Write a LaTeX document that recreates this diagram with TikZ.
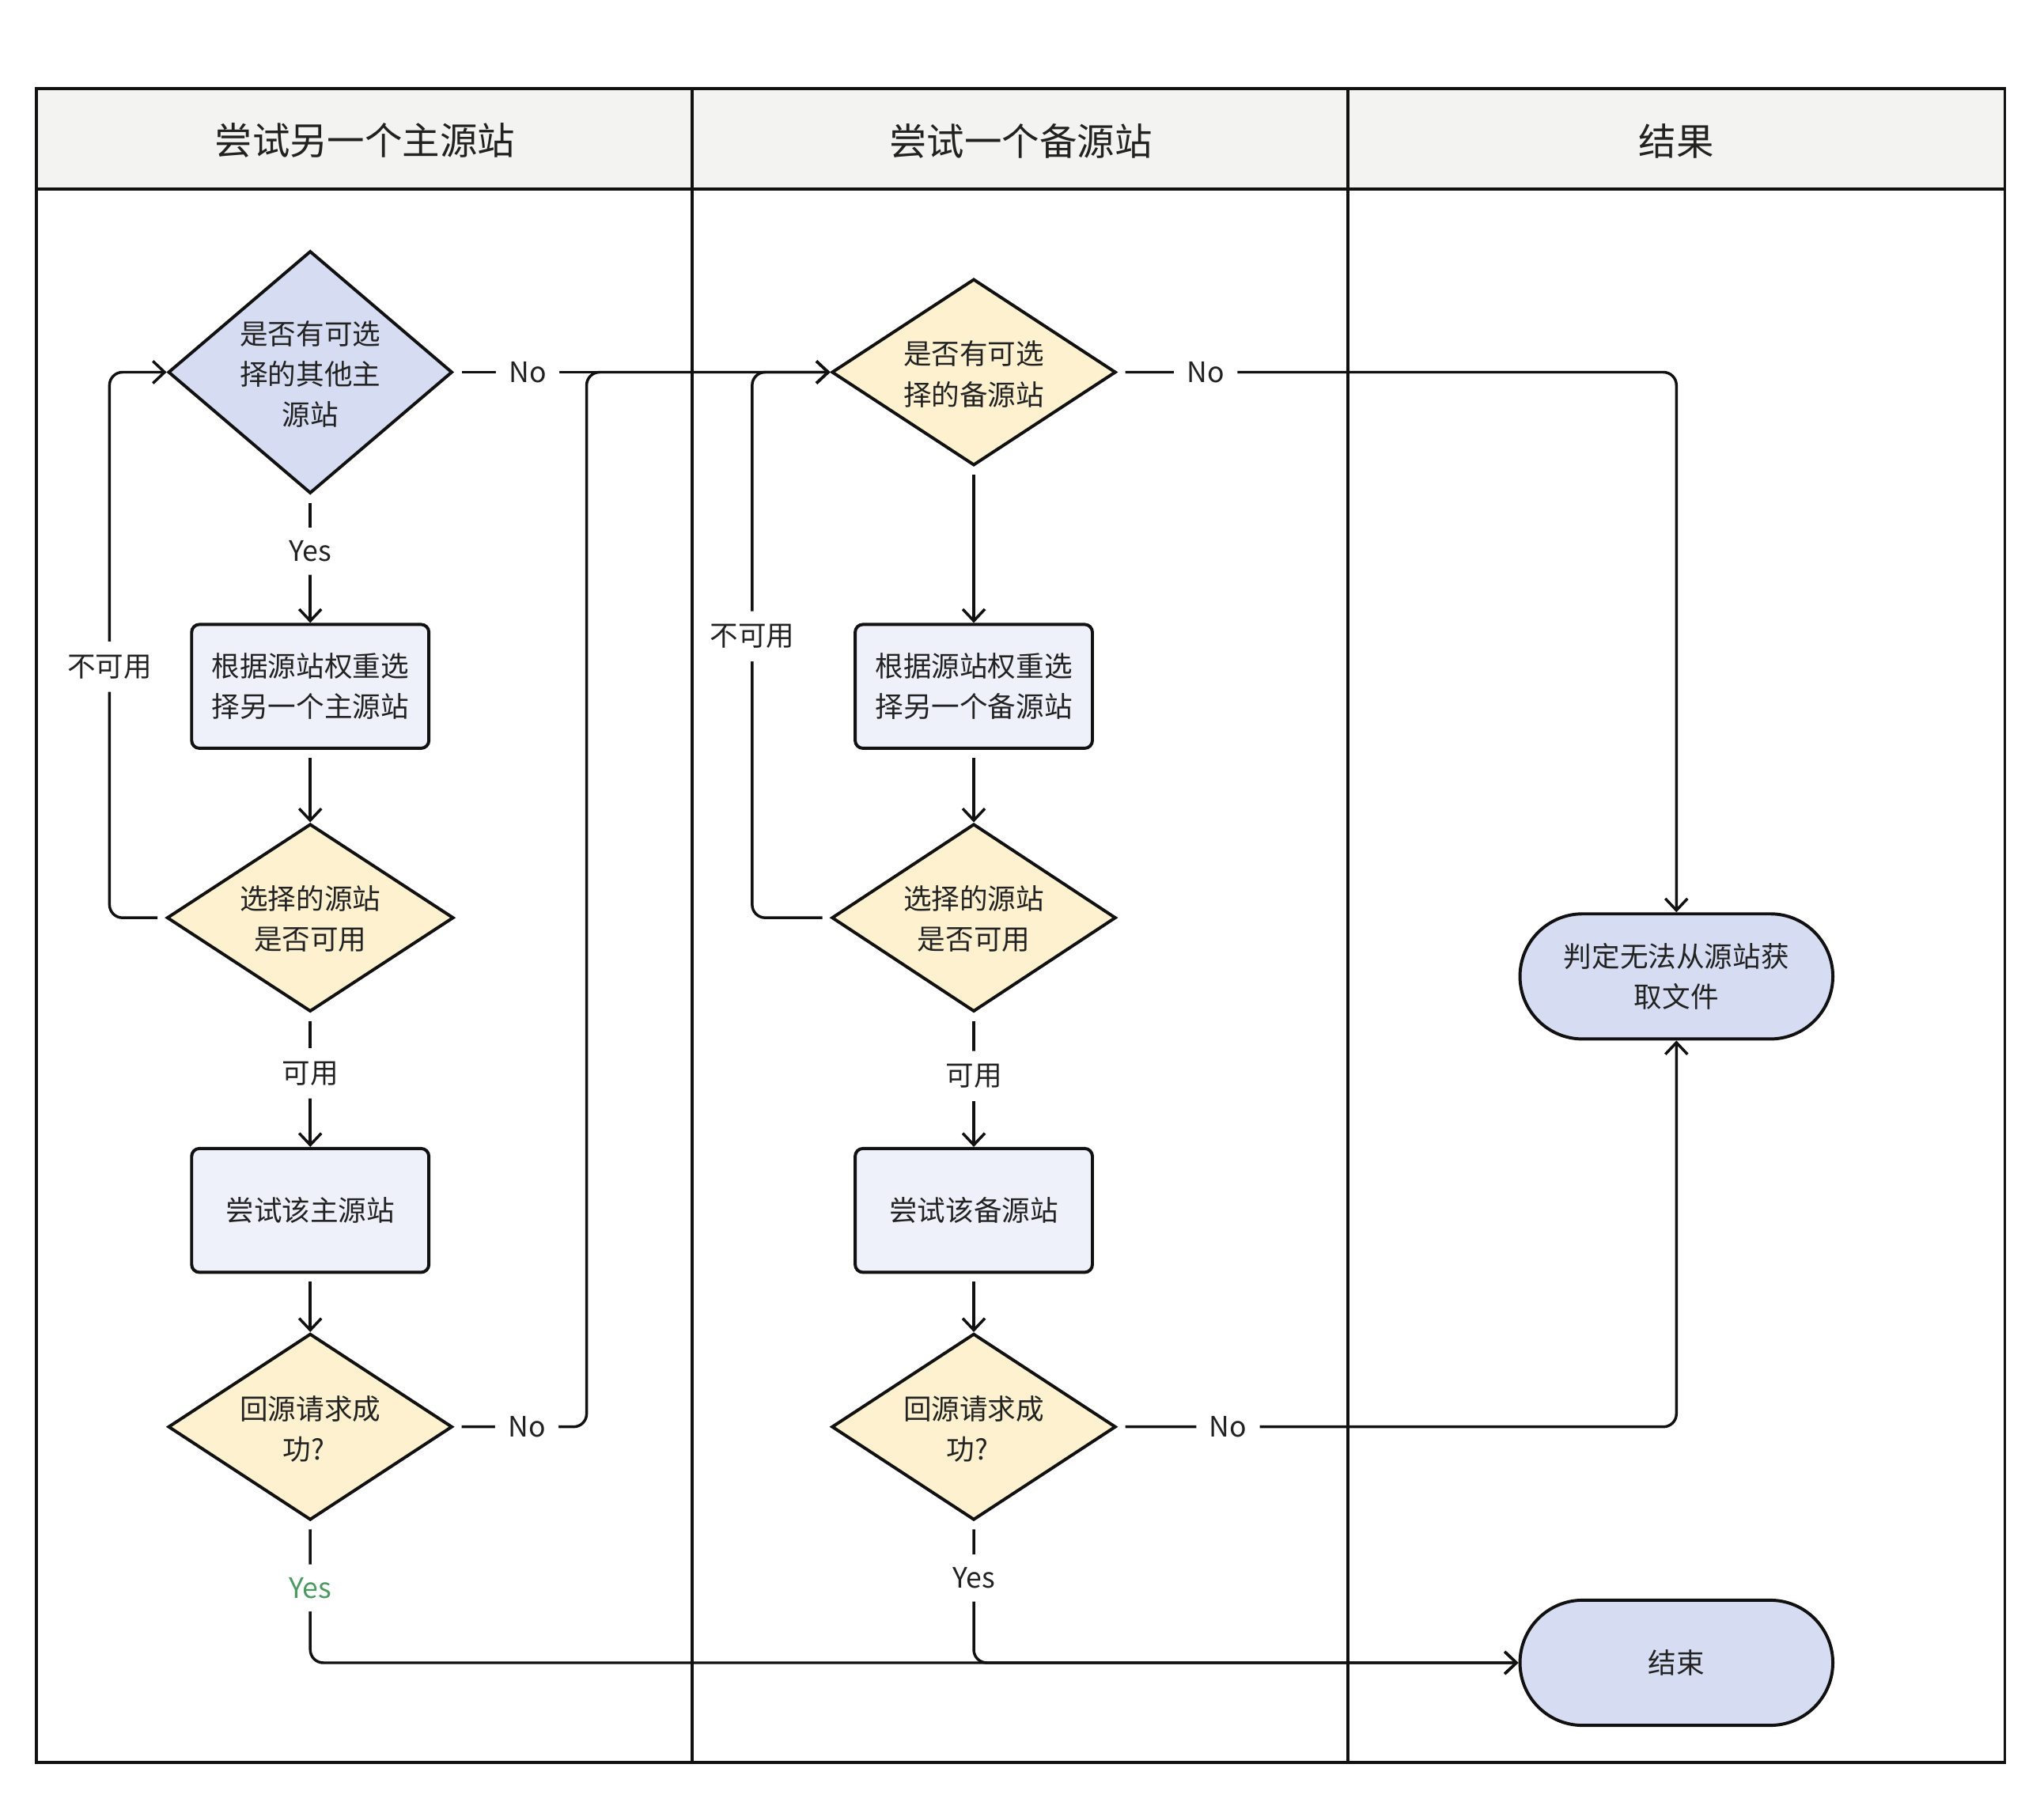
\documentclass[tikz,border=0pt]{standalone}
\usepackage{fontspec}
\setmainfont{Noto Sans CJK SC}
\usetikzlibrary{arrows.meta,shapes.geometric}
\definecolor{linec}{RGB}{17,17,17}
\definecolor{textc}{RGB}{34,34,34}
\definecolor{headf}{RGB}{243,243,241}
\definecolor{bluef}{RGB}{214,220,242}
\definecolor{yelf}{RGB}{253,241,207}
\definecolor{boxf}{RGB}{238,241,250}
\definecolor{greenc}{RGB}{76,153,98}
\newcommand{\nfont}{\fontsize{10.8pt}{15.5pt}\selectfont}
\newcommand{\hfont}{\fontsize{14.4pt}{18pt}\selectfont}
\begin{document}
\begin{tikzpicture}[x=0.5pt,y=-0.5pt,
  dia/.style={shape=diamond, draw=linec, line width=1.2pt, inner sep=0pt},
  bluedia/.style={dia, fill=bluef},
  yeldia/.style={dia, fill=yelf},
  stepbox/.style={rectangle, rounded corners=3pt, draw=linec, line width=1.2pt, fill=boxf,
    minimum width=91pt, minimum height=47.5pt, inner sep=0pt, align=center, font=\nfont, text=textc},
  term/.style={rectangle, rounded corners=24pt, draw=linec, line width=1.2pt, fill=bluef,
    minimum width=120pt, minimum height=48pt, inner sep=0pt, align=center, font=\nfont, text=textc},
  txt/.style={align=center, font=\nfont, text=textc, inner sep=0pt},
  head/.style={font=\hfont, text=textc},
  lbl/.style={fill=white, inner sep=5pt, font=\nfont, text=textc},
  arr/.style={draw=linec, line width=1.05pt, rounded corners=5pt, shorten <=3pt,
    -{Straight Barb[length=4.5pt,width=8.5pt,line width=1.05pt]}}
]
\useasboundingbox (0,0) rectangle (1568,1382);
\fill[white] (0,0) rectangle (1568,1382);
% frame and lanes
\fill[headf] (28,68) rectangle (1538,145);
\draw[linec, line width=1.05pt] (28,68) rectangle (1538,1352);
\draw[linec, line width=1.05pt] (28,145) -- (1538,145);
\draw[linec, line width=1.05pt] (531,68) -- (531,1352);
\draw[linec, line width=1.05pt] (1034,68) -- (1034,1352);
\node[head] (h1) at (280,108) {尝试另一个主源站};
\node[head] (h2) at (783,108) {尝试一个备源站};
\node[head] (h3) at (1286,108) {结果};

% column 1
\node[bluedia, minimum width=109pt, minimum height=93pt] (d1) at (238,285.5) {};
\node[txt] (d1t) at (238,287) {是否有可选\\择的其他主\\源站};
\node[stepbox] (b1) at (238,526.5) {根据源站权重选\\择另一个主源站};
\node[yeldia, minimum width=110pt, minimum height=72pt] (d2) at (238,704) {};
\node[txt] (d2t) at (238,705) {选择的源站\\是否可用};
\node[stepbox] (b2) at (238,928.5) {尝试该主源站};
\node[yeldia, minimum width=109pt, minimum height=71.5pt] (d3) at (238,1094.5) {};
\node[txt] (d3t) at (238,1096) {回源请求成\\功?\rule{5pt}{0pt}};

% column 2
\node[yeldia, minimum width=109pt, minimum height=71.5pt] (d4) at (747,285.5) {};
\node[txt] (d4t) at (747,287) {是否有可选\\择的备源站};
\node[stepbox] (b3) at (747,526.5) {根据源站权重选\\择另一个备源站};
\node[yeldia, minimum width=109pt, minimum height=72pt] (d5) at (747,704) {};
\node[txt] (d5t) at (747,705) {选择的源站\\是否可用};
\node[stepbox] (b4) at (747,928.5) {尝试该备源站};
\node[yeldia, minimum width=109pt, minimum height=71.5pt] (d6) at (747,1094.5) {};
\node[txt] (d6t) at (747,1096) {回源请求成\\功?\rule{5pt}{0pt}};

% column 3
\node[term] (t1) at (1286,749) {判定无法从源站获\\取文件};
\node[term] (t2) at (1286,1275.5) {结束};

% connectors column 1
\draw[arr] (d1.south) -- node[lbl, pos=0.44] (ly1) {Yes} (b1.north);
\draw[arr] (b1.south) -- (d2.north);
\draw[arr] (d2.south) -- node[lbl, pos=0.45] (lk1) {可用} (b2.north);
\draw[arr] (b2.south) -- (d3.north);
\draw[arr] (d2.west) -- (84,704) -- node[lbl, pos=0.46] (lu1) {不可用} (84,285.5) -- (d1.west);
\draw[arr] (d1.east) -- node[lbl, pos=0.196] (ln1) {No} (d4.west);
\draw[arr] (d3.east) -- node[lbl, pos=0.55] (ln2) {No} (450,1094.5) -- (450,285.5) -- (d4.west);
\draw[arr] (d3.south) -- node[lbl, pos=0.47, text=greenc] (ly2) {Yes} (238,1275.5) -- (t2.west);

% connectors column 2
\draw[arr] (d4.south) -- (b3.north);
\draw[arr] (b3.south) -- (d5.north);
\draw[arr] (d5.south) -- node[lbl, pos=0.47] (lk2) {可用} (b4.north);
\draw[arr] (b4.south) -- (d6.north);
\draw[arr] (d5.west) -- (577,704) -- node[lbl, pos=0.516] (lu2) {不可用} (577,285.5) -- (d4.west);
\draw[arr] (d4.east) -- node[lbl, pos=0.158] (ln3) {No} (1286,285.5) -- (t1.north);
\draw[arr] (d6.east) -- node[lbl, pos=0.198] (ln4) {No} (1286,1094.5) -- (t1.south);
\draw[arr] (d6.south) -- node[lbl, pos=0.4] (ly3) {Yes} (747,1275.5) -- (t2.west);
\end{tikzpicture}
\end{document}
